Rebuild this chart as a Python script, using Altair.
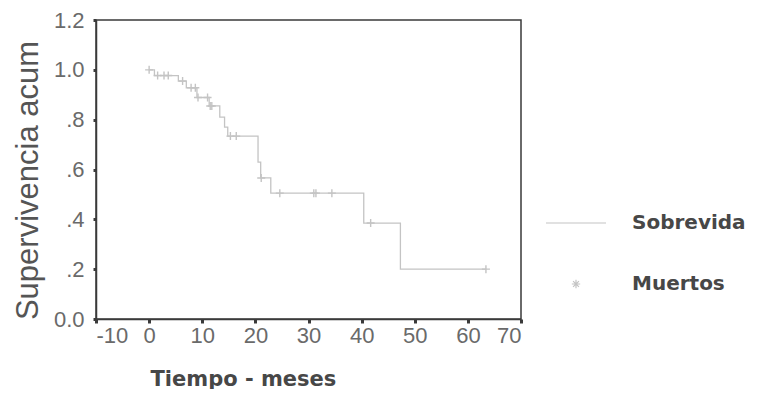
import altair as alt
import pandas as pd

# Kaplan-Meier curve (time in months, cumulative survival)
step_t = [0.0, 1.0, 5.5, 7.0, 9.0, 11.3, 13.3, 14.2, 14.8, 20.5, 21.0, 22.9, 40.4, 47.3, 63.4]
step_s = [1.0, 0.977, 0.955, 0.928, 0.889, 0.855, 0.81, 0.77, 0.734, 0.63, 0.566, 0.505, 0.385, 0.20, 0.20]

# censor marks (+)
cens_t = [0.0, 1.6, 2.8, 3.6, 6.3, 7.9, 8.7, 9.2, 11.0, 11.5, 11.8, 15.3, 16.4, 21.1, 24.6, 31.0, 31.4, 34.4, 41.7, 63.4]
cens_s = [1.0, 0.977, 0.977, 0.977, 0.955, 0.928, 0.928, 0.889, 0.889, 0.855, 0.855, 0.734, 0.734, 0.566, 0.505, 0.505, 0.505, 0.505, 0.385, 0.20]

x_ticks = [-10, 0, 10, 20, 30, 40, 50, 60, 70]
y_ticks = [0.0, 0.2, 0.4, 0.6, 0.8, 1.0, 1.2]
legend_labels = ["Sobrevida", "Muertos"]

curve = pd.DataFrame({"t": step_t, "s": step_s})
cens = pd.DataFrame({"t": cens_t, "s": cens_s})
legend_df = pd.DataFrame({
    "t": [step_t[0], cens_t[0]],
    "s": [step_s[0], cens_s[0]],
    "serie": legend_labels,
})

GRAY = "#c4c4c4"
FRAME = "#3a3a3a"
PLUS = "M-1,0L1,0M0,-1L0,1"
ASTER = "M-1,0L1,0M0,-1L0,1M-0.7,-0.7L0.7,0.7M-0.7,0.7L0.7,-0.7"

x_enc = alt.X(
    "t:Q",
    scale=alt.Scale(domain=[-10, 70], nice=False, zero=False),
    axis=alt.Axis(
        values=x_ticks, title="Tiempo - meses", grid=False,
        labelExpr="'' + datum.value",
        labelFont="Liberation Sans", labelFontSize=22, labelColor="#6a6a6a",
        labelPadding=2, tickSize=4, tickWidth=3, tickColor=FRAME,
        domainColor=FRAME, domainWidth=1.5,
        titleFont="DejaVu Sans", titleFontWeight="bold", titleFontSize=21,
        titleColor="#474747", titleX=54, titleY=66, titleAlign="left",
        titleAnchor="start", titleBaseline="alphabetic",
    ),
)
y_enc = alt.Y(
    "s:Q",
    scale=alt.Scale(domain=[0, 1.2], nice=False),
    axis=alt.Axis(
        values=y_ticks, title="Supervivencia acum", grid=False,
        labelExpr="datum.value == 0 ? '0.0' : (datum.value >= 1 ? format(datum.value, '.1f') : replace(format(datum.value, '.1f'), '0.', '.'))",
        labelFont="Liberation Sans", labelFontSize=22, labelColor="#6a6a6a",
        labelPadding=9, tickSize=3, tickWidth=3, tickColor=FRAME,
        domainColor=FRAME, domainWidth=1.5,
        titleFont="Liberation Sans", titleFontWeight="normal", titleFontSize=31,
        titleColor="#555555", titleX=-52, titleY=160, titleAngle=-90,
        titleAlign="center", titleBaseline="bottom",
    ),
)

line = alt.Chart(curve).mark_line(
    interpolate="step-after", color=GRAY, strokeWidth=1.3
).encode(x=x_enc, y=y_enc)

pts = alt.Chart(cens).mark_point(
    shape=PLUS, size=64, filled=False, strokeWidth=1.4, color=GRAY, opacity=1
).encode(x="t:Q", y="s:Q")

legend_props = dict(
    title=None, orient="none", legendX=449, legendY=172,
    symbolOpacity=1, symbolStrokeWidth=1.2, symbolStrokeColor=GRAY,
    labelFont="DejaVu Sans", labelFontWeight="bold", labelFontSize=20,
    labelColor="#474747", labelOffset=25, rowPadding=41,
)

leg = alt.Chart(legend_df).mark_point(
    filled=False, color=GRAY, opacity=0, strokeWidth=1.2
).encode(
    x="t:Q",
    y="s:Q",
    shape=alt.Shape(
        "serie:N",
        scale=alt.Scale(domain=legend_labels, range=["stroke", ASTER]),
        legend=alt.Legend(**legend_props),
    ),
    size=alt.Size(
        "serie:N",
        scale=alt.Scale(domain=legend_labels, range=[3600, 70]),
        legend=alt.Legend(**legend_props),
    ),
)

chart = (
    alt.layer(line, pts, leg)
    .properties(
        width=425, height=299,
        autosize=alt.AutoSizeParams(type="none"),
        padding={"left": 88, "top": 12, "right": 228, "bottom": 70},
        background="white",
    )
    .configure_view(stroke=FRAME, strokeWidth=1.5)
)

chart.save("out.html", embed_options={"renderer": "svg", "actions": False})
